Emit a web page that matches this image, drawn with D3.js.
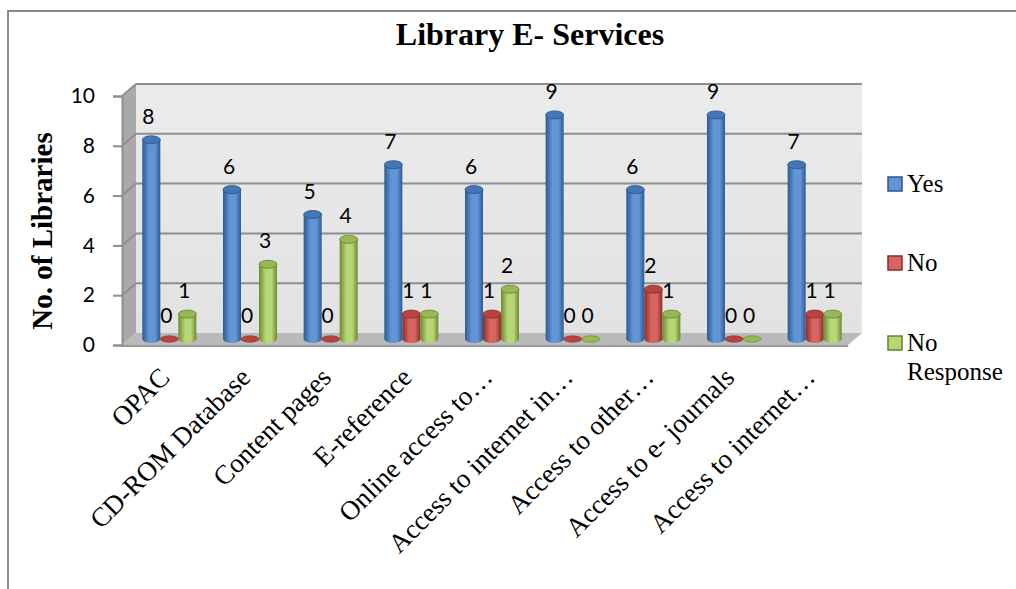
<!DOCTYPE html>
<html>
<head>
<meta charset="utf-8">
<script src="https://cdn.jsdelivr.net/npm/d3@7/dist/d3.min.js"></script>
<style>
  html, body { margin: 0; padding: 0; background: #fff; }
  svg { display: block; }
</style>
</head>
<body>
<svg id="chart" width="1016" height="589"></svg>
<script>
// Library e-services survey: number of libraries per answer
const categories = [
  "OPAC", "CD-ROM Database", "Content pages", "E-reference",
  "Online access to…", "Access to internet in…", "Access to other…",
  "Access to e- journals", "Access to internet…"
];
const seriesNames = ["Yes", "No", "No Response"];
const yesValues = [8, 6, 5, 7, 6, 9, 6, 9, 7];
const noValues = [0, 0, 0, 1, 1, 0, 2, 0, 1];
const noResponseValues = [1, 3, 4, 1, 2, 0, 1, 0, 1];
const yTicks = [0, 2, 4, 6, 8, 10];

const seriesValues = [yesValues, noValues, noResponseValues];
const palette = {
  "Yes":         { edge: "#2c5a93", mid: "#6395d6", top: "#4576b6", line: "#2a5488" },
  "No":          { edge: "#8a2c29", mid: "#d8655f", top: "#b9443f", line: "#8a2c29" },
  "No Response": { edge: "#6c8a30", mid: "#b7d676", top: "#97b955", line: "#66822c" }
};

const svg = d3.select("#chart");
const defs = svg.append("defs");

// Frame around the chart
svg.append("path")
  .attr("d", "M8,589 V11 H1016")
  .attr("fill", "none").attr("stroke", "#8c8c8c").attr("stroke-width", 2);

// Title
svg.append("text")
  .attr("x", 530).attr("y", 45)
  .attr("text-anchor", "middle")
  .style("font-family", "'Liberation Serif', 'Times New Roman', serif")
  .style("font-weight", "bold").style("font-size", "32px")
  .text("Library E- Services");

// Scales (front plane of the 3D box)
const y = d3.scaleLinear().domain([0, 10]).range([345, 96]);
const x0 = d3.scaleBand().domain(categories).range([122, 848]);
const x1 = d3.scaleBand().domain(seriesNames).range([0, x0.bandwidth()]).paddingOuter(0.74);
const DX = 14, DY = -12;          // depth of the box
const MX = DX / 2, MY = DY / 2;   // columns stand at mid depth

const box = svg.append("g");
const y0 = y(0), yTop = y(10);
const xL = x0.range()[0], xR = x0.range()[1];

// Back wall
const wallGrad = defs.append("linearGradient").attr("id", "wall")
  .attr("x1", 0).attr("y1", 0).attr("x2", 0).attr("y2", 1);
wallGrad.append("stop").attr("offset", "0%").attr("stop-color", "#ebebeb");
wallGrad.append("stop").attr("offset", "100%").attr("stop-color", "#e2e2e2");
box.append("rect")
  .attr("x", xL + DX).attr("y", yTop + DY)
  .attr("width", xR - xL).attr("height", y0 - yTop)
  .attr("fill", "url(#wall)");

// Side wall
box.append("path")
  .attr("d", `M${xL},${y0} L${xL},${yTop} L${xL + DX},${yTop + DY} L${xL + DX},${y0 + DY} Z`)
  .attr("fill", "#a9a9a9");

// Floor
box.append("path")
  .attr("d", `M${xL},${y0} L${xL + DX},${y0 + DY} L${xR + DX},${y0 + DY} L${xR},${y0} Z`)
  .attr("fill", "#bababa");
box.append("line")
  .attr("x1", xL).attr("x2", xR).attr("y1", y0 + 1).attr("y2", y0 + 1)
  .attr("stroke", "#9a9a9a").attr("stroke-width", 2);

// Gridlines on back and side walls
yTicks.filter(t => t > 0).forEach(t => {
  box.append("line")
    .attr("x1", xL + DX).attr("x2", xR + DX)
    .attr("y1", y(t) + DY).attr("y2", y(t) + DY)
    .attr("stroke", "#8e8e8e").attr("stroke-width", 2);
  box.append("line")
    .attr("x1", xL).attr("x2", xL + DX)
    .attr("y1", y(t)).attr("y2", y(t) + DY)
    .attr("stroke", "#8e8e8e").attr("stroke-width", 2);
});

// Y axis
const yAxis = svg.append("g")
  .attr("transform", `translate(${xL},0)`)
  .call(d3.axisLeft(y).tickValues(yTicks).tickSize(9).tickPadding(18));
yAxis.select(".domain").attr("stroke", "#8e8e8e").attr("stroke-width", 2);
yAxis.selectAll(".tick line").attr("stroke", "#8e8e8e").attr("stroke-width", 2);
yAxis.selectAll(".tick text")
  .style("font-family", "Lato, Carlito, Calibri, sans-serif")
  .style("font-size", "21px").attr("fill", "#000");

// Y axis title
svg.append("text")
  .attr("transform", "translate(52,231) rotate(-90)")
  .attr("text-anchor", "middle")
  .style("font-family", "'Liberation Serif', 'Times New Roman', serif")
  .style("font-weight", "bold").style("font-size", "29px")
  .text("No. of Libraries");

// Cylinder gradients
seriesNames.forEach((s, i) => {
  const g = defs.append("linearGradient").attr("id", "cyl" + i)
    .attr("x1", 0).attr("y1", 0).attr("x2", 1).attr("y2", 0);
  g.append("stop").attr("offset", "0%").attr("stop-color", palette[s].edge);
  g.append("stop").attr("offset", "38%").attr("stop-color", palette[s].mid);
  g.append("stop").attr("offset", "70%").attr("stop-color", palette[s].mid);
  g.append("stop").attr("offset", "100%").attr("stop-color", palette[s].edge);
});

// Columns
const rows = categories.map((c, ci) => ({ cat: c, vals: seriesValues.map(v => v[ci]) }));
const bw = x1.bandwidth();
const RY = 4;
const groups = svg.append("g").selectAll("g").data(rows).join("g");

groups.each(function (d) {
  const g = d3.select(this);
  d.vals.forEach((v, si) => {
    const s = seriesNames[si];
    const cx = x0(d.cat) + x1(s) + bw / 2 + MX;
    const yb = y(0) + MY;
    const yt = y(v) + MY;
    if (v > 0) {
      g.append("ellipse")
        .attr("cx", cx).attr("cy", yb).attr("rx", bw / 2).attr("ry", RY)
        .attr("fill", `url(#cyl${si})`);
      g.append("rect")
        .attr("x", cx - bw / 2).attr("y", yt).attr("width", bw).attr("height", yb - yt)
        .attr("fill", `url(#cyl${si})`);
      g.append("ellipse")
        .attr("cx", cx).attr("cy", yt).attr("rx", bw / 2).attr("ry", RY)
        .attr("fill", palette[s].top).attr("stroke", palette[s].line).attr("stroke-width", 0.8);
    } else {
      g.append("ellipse")
        .attr("cx", cx).attr("cy", yb).attr("rx", bw / 2).attr("ry", RY - 0.8)
        .attr("fill", palette[s].top).attr("stroke", palette[s].line).attr("stroke-width", 0.6);
    }
    g.append("text")
      .attr("x", cx - 3).attr("y", yt - 16)
      .attr("text-anchor", "middle")
      .style("font-family", "Lato, Carlito, Calibri, sans-serif")
      .style("font-size", "21px")
      .text(v);
  });
});

// Category labels
svg.append("g").selectAll("text").data(categories).join("text")
  .attr("transform", c => `translate(${x0(c) + x0.bandwidth() / 2 + 9},${379}) rotate(-45)`)
  .attr("text-anchor", "end")
  .style("font-family", "'Liberation Serif', 'Times New Roman', serif")
  .style("font-size", "27px")
  .text(c => c);

// Legend
const legendY = [184, 263, 343];
const legend = svg.append("g").selectAll("g").data(seriesNames).join("g")
  .attr("transform", (s, i) => `translate(888,${legendY[i]})`);
legend.append("rect")
  .attr("x", 0).attr("y", -7).attr("width", 14).attr("height", 14)
  .attr("fill", s => palette[s].mid).attr("stroke", s => palette[s].line).attr("stroke-width", 1.5);
legend.append("text")
  .attr("x", 19).attr("y", 8)
  .style("font-family", "'Liberation Serif', 'Times New Roman', serif")
  .style("font-size", "25px")
  .each(function (s) {
    const parts = s.split(" ");
    const t = d3.select(this);
    if (parts.length === 2 && s === "No Response") {
      t.append("tspan").attr("x", 19).text(parts[0]);
      t.append("tspan").attr("x", 19).attr("dy", 29).text(parts[1]);
    } else {
      t.text(s);
    }
  });
</script>
</body>
</html>
